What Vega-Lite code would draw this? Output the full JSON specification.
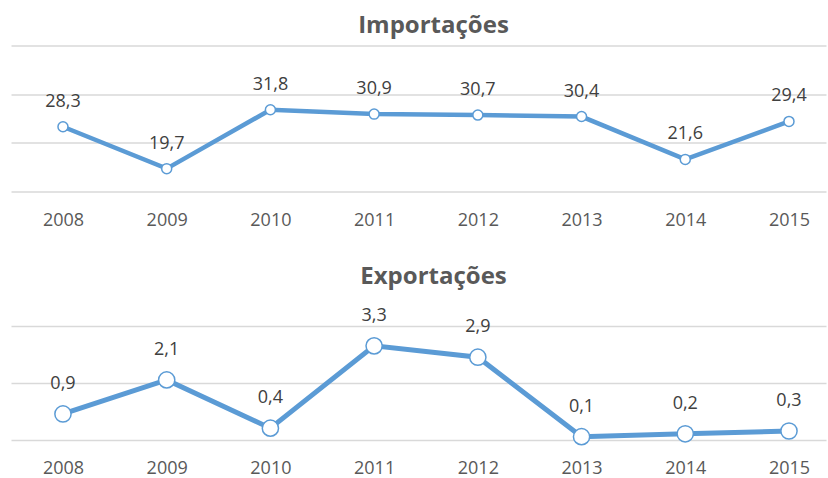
{
  "$schema": "https://vega.github.io/schema/vega-lite/v6.json",
  "padding": {"left": 11, "top": 13.5, "right": 2, "bottom": 0},
  "background": "white",
  "config": {
    "locale": {"number": {"decimal": ",", "thousands": ".", "grouping": [3], "currency": ["", ""]}},
    "view": {"stroke": null},
    "font": "Open Sans",
    "title": {"fontSize": 24, "fontWeight": "bold", "color": "#595959", "font": "Open Sans", "dx": 15, "offset": 8},
    "axisX": {"domain": false, "ticks": false, "grid": false, "labelAngle": 0, "labelFontSize": 18, "labelColor": "#595959", "labelPadding": 20, "title": null, "labelFont": "Open Sans"},
    "axisY": {"domain": false, "ticks": false, "labels": false, "grid": true, "gridColor": "#D9D9D9", "gridWidth": 1.5, "title": null},
    "concat": {"spacing": 35.5}
  },
  "datasets": {
    "imp": [
      {"ano": "2008", "valor": 28.3},
      {"ano": "2009", "valor": 19.7},
      {"ano": "2010", "valor": 31.8},
      {"ano": "2011", "valor": 30.9},
      {"ano": "2012", "valor": 30.7},
      {"ano": "2013", "valor": 30.4},
      {"ano": "2014", "valor": 21.6},
      {"ano": "2015", "valor": 29.4}
    ],
    "exp": [
      {"ano": "2008", "valor": 0.9},
      {"ano": "2009", "valor": 2.1},
      {"ano": "2010", "valor": 0.4},
      {"ano": "2011", "valor": 3.3},
      {"ano": "2012", "valor": 2.9},
      {"ano": "2013", "valor": 0.1},
      {"ano": "2014", "valor": 0.2},
      {"ano": "2015", "valor": 0.3}
    ]
  },
  "vconcat": [
    {
      "title": "Importações",
      "width": 815,
      "height": 146,
      "data": {"name": "imp"},
      "encoding": {
        "x": {"field": "ano", "type": "ordinal", "scale": {"type": "point", "padding": 0.429, "align": 0.584}},
        "y": {"field": "valor", "type": "quantitative", "scale": {"domain": [15, 45], "nice": false, "zero": false}, "axis": {"values": [15, 25, 35, 45]}}
      },
      "layer": [
        {"mark": {"type": "line", "color": "#5B9BD5", "strokeWidth": 4.5}},
        {"mark": {"type": "point", "filled": true, "fill": "white", "stroke": "#5B9BD5", "strokeWidth": 1.5, "size": 100, "opacity": 1}},
        {"mark": {"type": "text", "dy": -20, "baseline": "alphabetic", "fontSize": 18, "color": "#404040"}, "encoding": {"text": {"field": "valor", "type": "quantitative", "format": ".1f"}}}
      ]
    },
    {
      "title": {"text": "Exportações", "offset": 17.7},
      "width": 815,
      "height": 113.5,
      "data": {"name": "exp"},
      "encoding": {
        "x": {"field": "ano", "type": "ordinal", "scale": {"type": "point", "padding": 0.429, "align": 0.584}},
        "y": {"field": "valor", "type": "quantitative", "scale": {"domain": [0, 4], "nice": false}, "axis": {"values": [0, 2, 4]}}
      },
      "layer": [
        {"mark": {"type": "line", "color": "#5B9BD5", "strokeWidth": 5}},
        {"mark": {"type": "point", "filled": true, "fill": "white", "stroke": "#5B9BD5", "strokeWidth": 1.5, "size": 263, "opacity": 1}},
        {"mark": {"type": "text", "dy": -25, "baseline": "alphabetic", "fontSize": 18, "color": "#404040"}, "encoding": {"text": {"field": "valor", "type": "quantitative", "format": ".1f"}}}
      ]
    }
  ]
}
